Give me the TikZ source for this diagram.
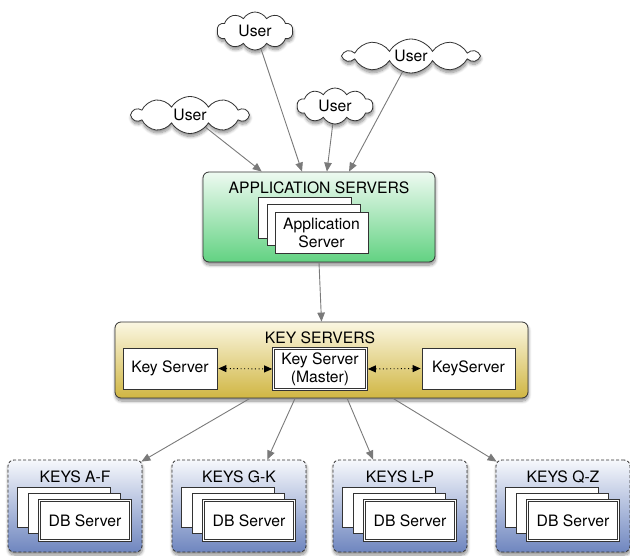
\documentclass[tikz,border=0pt]{standalone}
\usepackage{fontspec}
\setmainfont{TeX Gyre Heros}
\usetikzlibrary{shapes.symbols,shadows.blur,calc,arrows.meta}
\definecolor{gtop}{HTML}{EEFAF1}
\definecolor{gbot}{HTML}{62D282}
\definecolor{ytop}{HTML}{FBF7E2}
\definecolor{ybot}{HTML}{D0B643}
\definecolor{btop}{HTML}{F6F8FC}
\definecolor{bbot}{HTML}{6F86BF}
\definecolor{edge}{HTML}{333333}
\definecolor{arrowgray}{HTML}{7A7A7A}
\begin{document}
\begin{tikzpicture}[x=1pt,y=-1pt,
  font=\fontsize{15.7}{18}\selectfont,
  shad/.style={blur shadow={shadow xshift=0.5pt, shadow yshift=-3pt, shadow blur radius=3pt, shadow blur steps=8, shadow opacity=45}},
  group/.style={draw=edge, line width=0.8pt, rounded corners=6pt, inner sep=0pt, shad},
  appgrp/.style={group, top color=gtop, bottom color=gbot, minimum width=232pt, minimum height=90pt},
  keygrp/.style={group, top color=ytop, bottom color=ybot, minimum width=413pt, minimum height=76pt},
  dbgrp/.style={group, top color=btop, bottom color=bbot, dash pattern=on 3pt off 2pt, minimum width=134pt, minimum height=92pt},
  card/.style={draw=edge, fill=white, line width=0.8pt, inner sep=0pt, align=center, minimum width=93pt, minimum height=41pt},
  dcard/.style={draw=edge, fill=white, inner sep=0pt, align=center, double=white, double distance=1.8pt, line width=0.75pt},
  user/.style={cloud, cloud puffs=10, cloud puff arc=120, cloud ignores aspect, draw=edge, fill=white, line width=0.8pt, inner sep=0pt, shad},
  title/.style={inner sep=0pt},
  arr/.style={draw=arrowgray, line width=0.9pt, -{Triangle[length=9pt,width=7.5pt]}},
  darr/.style={draw=black, line width=0.9pt, dash pattern=on 1pt off 2.6pt, {Triangle[length=8pt,width=7pt]}-{Triangle[length=8pt,width=7pt]}, shorten <=1pt, shorten >=1pt}
]
\useasboundingbox (0,0) rectangle (630,556);

% clouds
\node[user, minimum width=76pt, minimum height=38pt] (u1) at (255,31) {User};
\node[user, minimum width=134pt, minimum height=34pt] (u2) at (411,56) {User};
\node[user, minimum width=116pt, minimum height=37pt] (u3) at (190,115) {User};
\node[user, minimum width=76pt, minimum height=36pt] (u4) at (335,106) {User};

% application servers
\node[appgrp] (app) at (319,217) {};
\node[title] (apptitle) at (319,188) {APPLICATION SERVERS};
\node[card] (as3) at (305,218) {};
\node[card] (as2) at (313.5,225) {};
\node[card] (as1) at (321.5,232.5) {Application\\Server};

% key servers
\node[keygrp] (keys) at (321.5,360) {};
\node[title] (keytitle) at (320,338) {KEY SERVERS};
\node[card, minimum width=94pt] (ks1) at (170,368.5) {Key Server};
\node[dcard, minimum width=93pt, minimum height=41pt] (ksm) at (320,369) {Key Server\\(Master)};
\node[card] (ks3) at (468.5,368.5) {KeyServer};

% db groups
\foreach \L/\lab/\nm in {8/KEYS A-F/kaf, 172/KEYS G-K/kgk, 333/KEYS L-P/klp, 496/KEYS Q-Z/kqz}{
  \node[dbgrp] (\nm) at (\L+67,506) {};
  \node[title] (\nm t) at (\L+67,477) {\lab};
  \node[card, minimum height=40pt] (\nm c3) at (\L+55.5,507) {};
  \node[card, minimum width=92pt, minimum height=40pt] (\nm c2) at (\L+66,513) {};
  \node[dcard, minimum width=91pt, minimum height=40pt] (\nm c1) at (\L+77,520.5) {DB Server};
}

% connectors: users -> app
\draw[arr] (u3) -- ($(app.north west)!0.254!(app.north east)$);
\draw[arr] (u1) -- ($(app.north west)!0.427!(app.north east)$);
\draw[arr] (u4) -- ($(app.north west)!0.534!(app.north east)$);
\draw[arr] (u2) -- ($(app.north west)!0.629!(app.north east)$);

% app -> keys
\draw[arr] (app.south) -- (keys.north);

% key servers peer links
\draw[darr] (ks1.east) -- (ksm.west);
\draw[darr] (ksm.east) -- (ks3.west);

% keys -> db groups
\draw[arr] ($(keys.south west)!0.327!(keys.south east)$) -- ($(kaf.north east)+(-1,2)$);
\draw[arr] ($(keys.south west)!0.436!(keys.south east)$) -- ($(kgk.north west)!0.71!(kgk.north east)$);
\draw[arr] ($(keys.south west)!0.562!(keys.south east)$) -- ($(klp.north west)!0.30!(klp.north east)$);
\draw[arr] ($(keys.south west)!0.673!(keys.south east)$) -- ($(kqz.north west)+(1,2)$);
\end{tikzpicture}
\end{document}
